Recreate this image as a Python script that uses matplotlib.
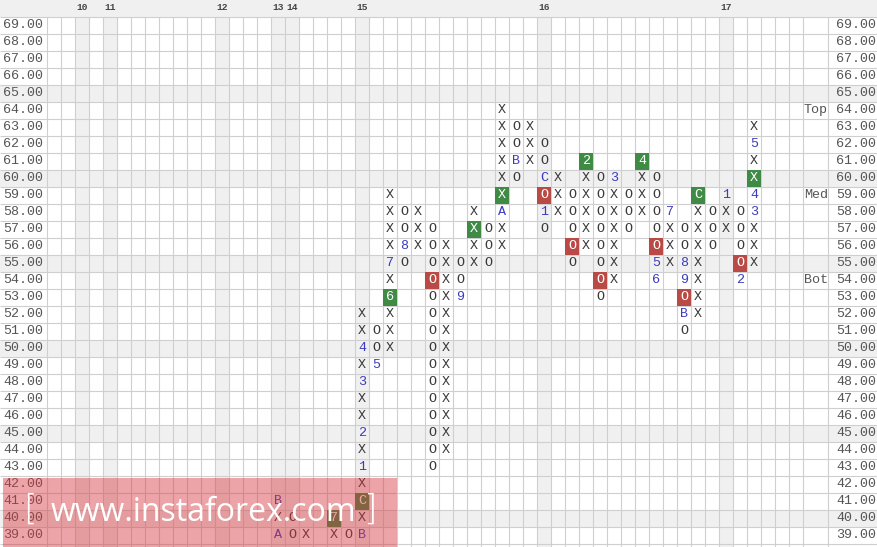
import matplotlib
matplotlib.use("Agg")
import matplotlib.pyplot as plt
from matplotlib.patches import Rectangle

# ---- chart data -------------------------------------------------------------
price_top = 69
price_bottom = 39
n_cols = 54

# point & figure columns: (column index, lowest price, cells bottom -> top)
col_index = [16, 17, 18, 20, 21, 22, 23, 24, 25, 26, 27, 28, 29, 30, 31, 32, 33,
             34, 35, 36, 37, 38, 39, 40, 41, 42, 43, 44, 45, 46, 47, 48, 49, 50]
col_low = [39, 39, 39, 39, 39, 39, 49, 50, 55, 56, 43, 44, 53, 55, 55, 56, 60,
           61, 57, 58, 55, 56, 53, 54, 57, 58, 54, 55, 51, 52, 56, 57, 54, 55]
col_cells = ["AXB", "OO", "X", "X7", "O", "BXCX1X2XX3X4XX", "5OO", "XXX6X7XXXX",
             "O8OO", "XXX", "OOOOOOOOOOOOOOO", "XXXXXXXXXXXXX", "9OO", "XXXX",
             "OOO", "XXAXXXXXX", "OBOO", "XXX", "O1OCOO", "XXX", "OOOOO",
             "XXXXX2", "OOOOOOOO", "XXXXXX3", "OOO", "XXX4", "65OOOOO", "XXX7",
             "OBO98OO", "XXXXXXXC", "OOO", "XX1", "2OOOO", "XXX34XX5X"]

# highlighted cells (column, price)
green_cells = [(20, 40), (22, 41), (24, 53), (30, 57), (32, 59), (38, 61),
               (42, 61), (46, 59), (50, 60)]
red_cells = [(27, 54), (35, 59), (37, 56), (39, 54), (43, 56), (45, 53), (49, 55)]

# month markers along the top
month_cols = [2, 4, 12, 16, 17, 22, 35, 48]
month_labels = ["10", "11", "12", "13", "14", "15", "16", "17"]

shaded_rows = [65, 60, 55, 50, 45, 40]
level_labels = ["Top", "Med", "Bot"]
level_prices = [64, 59, 54]

# ---- figure -----------------------------------------------------------------
W, H = 877, 547
CW, RH = 14.0, 17.0          # cell size in pixels
left_px, right_px = 47, 803
fig = plt.figure(figsize=(W / 100, H / 100), dpi=100)
ax = fig.add_axes([0, 0, 1, 1])
x0 = -left_px / CW
x1 = x0 + W / CW
y1 = price_top + 0.5 + 17 / RH
y0 = y1 - H / RH
ax.set_xlim(x0, x1)
ax.set_ylim(y0, y1)
ax.axis("off")

mono = "Liberation Mono"
grid_c = "#cfcfcf"
shade_c = "#f0f0f0"
label_c = "#555555"
lvl_right = n_cols + 25 / CW      # right edge of Top/Med/Bot column

# shading
for p in shaded_rows:
    ax.axhspan(p - 0.5, p + 0.5, color=shade_c, lw=0, zorder=0)
for c in month_cols:
    ax.axvspan(c, c + 1, ymax=(price_top + 0.5 - y0) / (y1 - y0),
               color=shade_c, lw=0, zorder=0)
ax.axhspan(price_top + 0.5, y1, color=shade_c, lw=0, zorder=0)

# grid
rows = list(range(price_bottom - 1, price_top + 1))
ax.hlines([p + 0.5 for p in rows], x0, x1, color=grid_c, lw=0.8, zorder=1)
vx = list(range(0, n_cols + 1)) + [lvl_right]
ax.vlines(vx, y0, price_top + 0.5, color=grid_c, lw=0.8, zorder=1)

# month labels
for c, lab in zip(month_cols, month_labels):
    ax.text(c + 0.08, price_top + 0.5 + 0.55, lab, fontsize=6.8, family=mono,
            fontweight="bold", color="#444444", ha="left", va="center")

# price labels both sides
for p in range(price_bottom, price_top + 1):
    ax.text(x0 + 3 / CW, p, f"{p:.2f}", fontsize=9.6, family=mono,
            color=label_c, ha="left", va="center")
    ax.text(x1 - 1 / CW, p, f"{p:.2f}", fontsize=9.6, family=mono,
            color=label_c, ha="right", va="center")
for lab, p in zip(level_labels, level_prices):
    ax.text(n_cols + 1 / CW, p, lab, fontsize=9.6, family=mono,
            color=label_c, ha="left", va="center")

# highlighted boxes
gx = [c + 0.5 for c, p in green_cells]
gy = [p - 0.5 for c, p in green_cells]
ax.bar(gx, 1, bottom=gy, width=1, color="#3f8a45", lw=0, zorder=2)
rx = [c + 0.5 for c, p in red_cells]
ry = [p - 0.5 for c, p in red_cells]
ax.bar(rx, 1, bottom=ry, width=1, color="#b94a45", lw=0, zorder=2)
boxed = set(green_cells) | set(red_cells)

# X / O symbols
for c, low, cells in zip(col_index, col_low, col_cells):
    for k, ch in enumerate(cells):
        p = low + k
        if (c, p) in boxed:
            color = "white"
        elif ch in "XO":
            color = "#3a3a3a"
        else:
            color = "#3b3bc0"
        ax.text(c + 0.5, p, ch, fontsize=9.6, family=mono, color=color,
                ha="center", va="center", zorder=3)

# watermark
wm_x0 = x0 + 3 / CW
wm_x1 = x0 + 397 / CW
wm_y1 = y1 - 478 / RH
ax.add_patch(Rectangle((wm_x0, y0), wm_x1 - wm_x0, wm_y1 - y0,
                       facecolor="#d8363e", alpha=0.45, lw=0, zorder=5))
ax.text(x0 + 203 / CW, y1 - 513 / RH, "www.instaforex.com", fontsize=23,
        family="Open Sans", color="white", ha="center", va="center", zorder=6)
ax.text(x0 + 30 / CW, y1 - 510 / RH, "[", fontsize=25, family="DejaVu Sans",
        fontweight="light", color="white", ha="center", va="center", zorder=6)
ax.text(x0 + 370 / CW, y1 - 510 / RH, "]", fontsize=25, family="DejaVu Sans",
        fontweight="light", color="white", ha="center", va="center", zorder=6)

fig.savefig("out.png", dpi=100)
